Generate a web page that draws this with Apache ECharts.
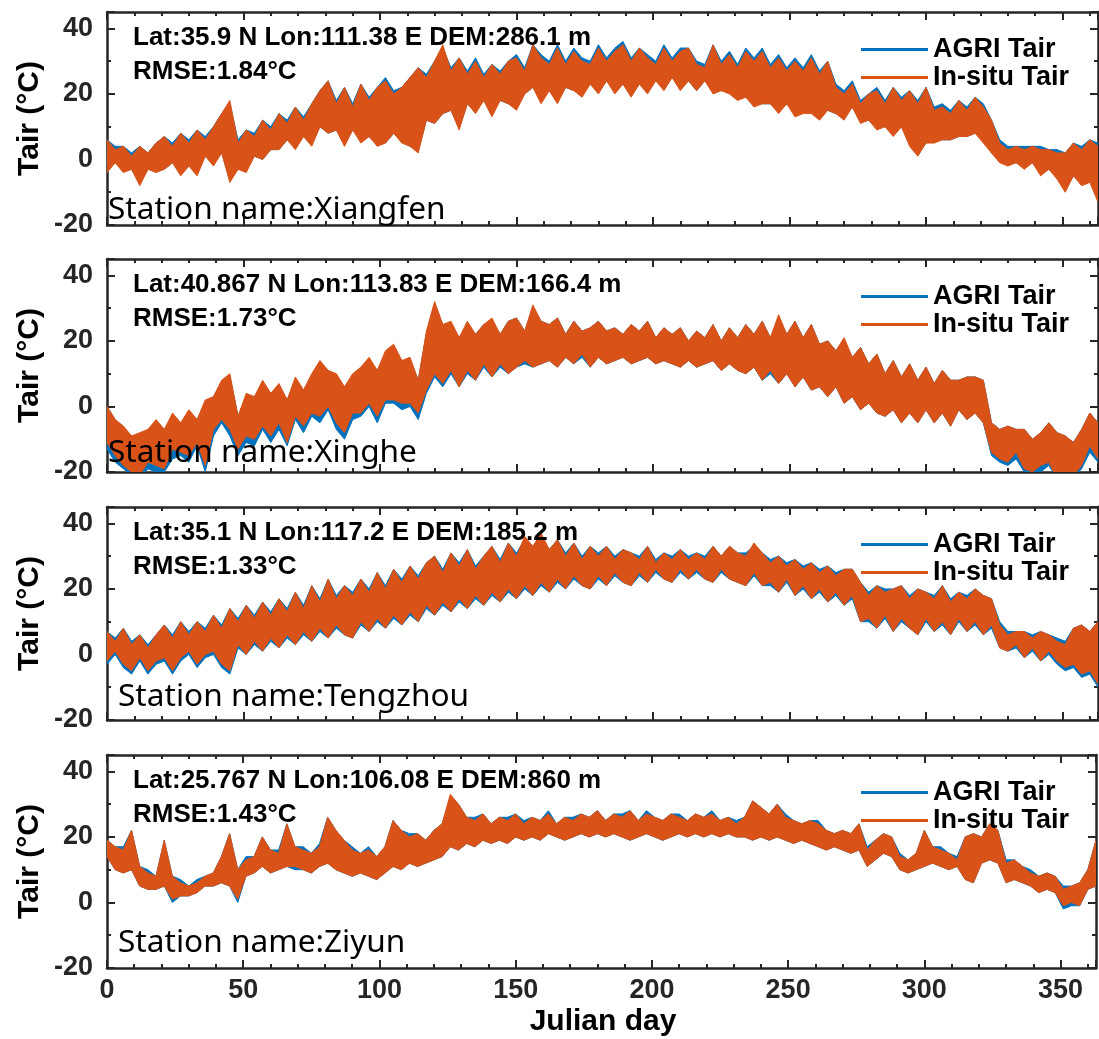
<!DOCTYPE html>
<html><head><meta charset="utf-8">
<script src="https://cdn.jsdelivr.net/npm/echarts@6/dist/echarts.min.js"></script>
<style>html,body{margin:0;padding:0;background:#fff;}#c{width:1099px;height:1039px;}</style>
</head><body><div id="c"></div>
<script>
// ---------------- DATA (sampled every 3 Julian days: 0,3,...,363) ----------------
const DAY_STEP = 3;
const X_TICK_LABELS = [0, 50, 100, 150, 200, 250, 300, 350];
const Y_TICK_LABELS = [-20, 0, 20, 40];
const STATIONS = ['Xiangfen', 'Xinghe', 'Tengzhou', 'Ziyun'];
const INFO = ['Lat:35.9 N Lon:111.38 E DEM:286.1 m', 'Lat:40.867 N Lon:113.83 E DEM:166.4 m',
              'Lat:35.1 N Lon:117.2 E DEM:185.2 m', 'Lat:25.767 N Lon:106.08 E DEM:860 m'];
const RMSE = ['RMSE:1.84°C', 'RMSE:1.73°C', 'RMSE:1.33°C', 'RMSE:1.43°C'];
const SERIES_NAMES = ['AGRI Tair', 'In-situ Tair'];

// Panel 1 Xiangfen (daily-max / daily-min envelopes)
const P1_INSITU_HI = [6,3,4,1,4,2,5,7,4,8, 5,9,6,10,14,18,5,9,7,12, 9,14,11,16,12,17,21,24,17,22,
  16,23,18,22,24,20,22,25,28,25, 30,35,27,31,26,30,25,29,26,30, 31,27,35,31,29,34,29,33,30,29,
  34,30,33,35,30,34,31,29,34,30, 33,34,29,28,35,29,32,28,33,30, 33,28,31,27,30,27,31,26,30,22,
  20,23,17,20,21,17,22,18,21,17, 22,15,16,14,18,15,19,16,12,5, 3,4,3,4,3,3,2,2,5,3, 6,4];
const P1_INSITU_LO = [-4,-1,-4,-3,-8,-3,-4,-3,-1,-5, -2,-5,1,-2,2,-7,-3,-4,1,0, 3,3,6,3,7,4,10,8,9,4,
  9,5,7,4,5,8,5,4,2,12, 11,14,15,9,17,14,18,13,18,17, 15,20,22,17,21,17,22,21,19,23,
  20,24,20,23,19,23,20,24,21,25, 21,24,21,24,20,21,20,18,19,16, 17,17,14,17,13,14,14,12,15,14,
  12,16,11,12,9,10,7,10,4,1, 5,5,6,6,7,7,8,5,2,-1, -2,-1,-3,-1,-5,-3,-6,-10,-5,-8, -7,-13];
const P1_AGRI_HI = [6,4,4,2,4,2,5,7,5,8, 6,9,7,10,14,17,6,9,8,12, 10,14,12,16,13,17,21,24,18,22,
  17,23,19,22,25,21,22,25,28,26, 30,34,28,31,27,31,26,29,27,30, 32,28,35,32,30,35,30,34,31,30,
  35,31,34,36,31,34,32,30,35,31, 34,34,30,29,35,30,33,29,34,31, 34,29,32,28,31,28,32,27,30,23,
  21,24,18,20,22,18,22,19,21,18, 22,16,17,15,18,16,19,17,12,6, 4,4,4,4,4,3,3,2,5,4, 6,5];
const P1_AGRI_LO = [-3,-1,-3,-3,-7,-3,-3,-3,-1,-4, -2,-4,1,-1,2,-6,-3,-3,1,0, 3,3,6,4,7,5,10,8,9,5,
  9,6,7,5,5,8,6,4,3,12, 11,14,15,10,17,15,18,14,18,17, 16,20,22,18,21,18,22,21,20,23,
  21,24,21,23,20,23,21,24,22,25, 22,24,21,24,21,21,21,19,19,17, 17,17,15,17,14,15,15,13,15,14,
  13,16,12,12,10,10,8,10,5,2, 5,6,6,6,7,7,8,6,2,0, -1,-1,-2,-1,-4,-3,-5,-9,-5,-7, -6,-12];

// Panel 2 Xinghe
const P2_INSITU_HI = [0,-4,-6,-9,-8,-7,-4,-7,-2,-5, -1,-4,2,3,8,10,-3,4,3,8, 4,7,2,9,5,10,14,11,10,6,
  10,12,15,11,17,19,14,15,8,23, 32,25,26,21,26,22,25,27,22,26, 27,23,31,26,25,27,22,26,23,24,
  26,23,24,22,25,23,26,21,24,22, 24,20,23,21,25,20,24,21,25,22, 26,21,28,22,26,21,25,19,20,17,
  21,15,18,13,16,10,14,9,13,8, 12,7,11,8,8,9,9,8,-5,-7, -6,-7,-7,-10,-8,-5,-8,-9,-11,-7, -2,-5];
const P2_INSITU_LO = [-11,-15,-18,-20,-21,-17,-18,-19,-13,-14, -15,-11,-18,-7,-4,-7,-13,-9,-10,-6,
  -9,-5,-11,-3,-6,-2,-3,0,-5,-8, -2,-2,1,-3,2,2,1,1,-2,5, 10,7,11,6,11,8,13,9,13,10,
  12,14,12,13,14,12,15,13,16,12, 15,13,14,15,13,14,15,13,14,13, 12,14,12,13,14,11,13,11,10,12,
  8,11,7,10,6,9,5,6,3,6, 1,3,-1,1,-2,-3,-1,-5,-2,-5, -1,-5,-2,-6,-1,-4,-2,-5,-14,-16,
  -17,-14,-19,-20,-18,-17,-22,-22,-21,-18, -12,-16];
const P2_AGRI_HI = [0,-4,-7,-9,-9,-7,-5,-7,-3,-5, -2,-4,1,3,7,9,-3,3,3,7, 4,6,2,8,5,9,13,11,9,6,
  9,12,14,11,16,18,14,14,8,22, 31,25,25,21,25,22,25,26,22,26, 27,23,30,26,25,27,22,26,23,24,
  26,23,24,22,25,23,26,21,24,22, 24,20,23,21,25,20,24,21,25,22, 26,21,27,22,26,21,25,19,20,17,
  20,15,18,13,16,10,14,9,13,8, 12,7,11,8,8,9,9,8,-5,-7, -6,-7,-7,-10,-8,-5,-8,-9,-11,-7, -2,-5];
const P2_AGRI_LO = [-13,-17,-19,-21,-22,-19,-20,-20,-16,-15, -17,-12,-20,-9,-5,-9,-15,-11,-12,-7,
  -11,-7,-12,-4,-8,-3,-5,-1,-7,-10, -4,-3,0,-5,1,1,-1,0,-4,4, 9,6,10,6,10,8,12,9,12,10,
  12,13,12,13,14,12,15,13,15,12, 15,13,14,15,13,14,15,13,14,13, 12,14,12,13,14,11,13,11,10,12,
  8,10,7,10,6,9,5,6,3,6, 1,3,-1,1,-2,-3,-1,-5,-2,-5, -1,-5,-2,-6,-1,-4,-2,-5,-15,-17,
  -18,-16,-20,-21,-20,-18,-22,-23,-22,-19, -14,-17];

// Panel 3 Tengzhou
const P3_INSITU_HI = [7,4,8,3,6,2,6,9,5,10, 6,10,7,12,8,14,10,15,11,16, 12,17,13,19,14,21,16,23,17,21,
  18,23,19,25,20,26,22,27,23,28, 30,25,31,27,32,26,30,33,28,34, 30,36,33,37,32,35,30,34,29,33,
  30,33,29,32,31,29,33,28,31,29, 32,29,31,29,33,30,33,31,30,34, 31,28,30,27,29,26,28,25,27,24,
  26,26,22,18,21,19,20,21,17,20, 19,17,21,16,19,17,20,18,17,9, 6,7,7,5,7,6,4,3,8,9, 7,10];
const P3_INSITU_LO = [-2,1,-3,-5,-1,-5,-2,-1,-5,-1, 1,-3,0,1,-3,-5,3,0,4,1, 5,2,6,3,7,4,8,5,9,6,
  5,10,7,11,8,12,9,13,10,15, 12,16,13,17,14,18,15,19,16,20, 17,21,18,22,19,23,20,24,21,20,
  24,21,25,22,21,25,22,26,23,22, 26,23,26,23,22,26,23,22,21,25, 21,22,19,23,18,21,17,20,16,19,
  15,18,10,11,8,12,7,11,8,6, 11,7,10,6,11,7,10,6,9,2, 1,3,-1,2,-2,1,-2,-4,-3,-6, -5,-9];
const P3_AGRI_HI = [7,5,8,4,6,3,6,9,6,10, 7,10,8,12,9,14,11,15,12,16, 13,17,14,19,15,21,17,23,18,21,
  19,23,20,25,21,26,23,27,24,28, 30,26,31,28,32,27,30,33,29,34, 31,35,33,36,32,35,31,34,30,33,
  31,33,30,32,31,30,33,29,31,30, 32,30,31,30,33,30,33,31,31,33, 31,29,30,28,29,27,28,26,27,25,
  26,26,22,19,21,20,20,21,18,20, 19,18,21,17,19,18,20,18,17,10, 7,7,7,6,7,6,5,4,8,9, 7,10];
const P3_AGRI_LO = [-3,0,-4,-6,-2,-6,-3,-2,-6,-2, 0,-4,-1,0,-4,-6,2,0,3,1, 4,2,5,3,6,4,7,5,8,6,
  5,9,7,10,8,11,9,12,10,14, 12,15,13,16,14,17,15,18,16,19, 17,20,18,21,19,22,20,23,21,20,
  23,21,24,22,21,24,22,25,23,22, 25,23,25,23,22,25,23,22,21,24, 21,21,19,22,18,20,17,19,16,18,
  15,17,10,10,8,11,7,10,8,6, 10,7,9,6,10,7,9,6,8,2, 1,2,-1,1,-2,0,-3,-5,-4,-7, -6,-10];

// Panel 4 Ziyun
const P4_INSITU_HI = [19,17,16,22,11,9,8,19,8,6, 5,6,8,9,14,21,10,13,14,20, 16,15,24,17,16,15,17,26,22,19,
  16,15,16,14,17,25,22,20,21,19, 22,24,33,30,26,25,27,24,26,25, 27,24,26,25,27,24,26,25,27,26,
  28,25,27,26,28,25,27,26,25,27, 26,25,27,26,27,25,26,24,26,31, 29,27,30,26,25,24,25,24,22,21,
  22,21,24,16,19,21,20,14,13,15, 22,17,16,15,13,20,21,20,24,22, 12,13,11,9,8,9,8,4,5,6, 10,19];
const P4_INSITU_LO = [14,10,9,10,5,4,4,5,1,2, 2,3,5,5,6,5,1,8,9,11, 9,10,11,11,10,9,11,12,10,9,
  8,9,8,7,9,11,10,12,11,12, 13,14,17,16,18,17,19,18,19,18, 20,19,20,19,21,20,19,20,21,20,
  21,20,21,20,19,20,21,20,19,20, 21,20,21,20,21,20,21,20,20,19, 20,19,20,19,18,19,18,17,16,17,
  16,15,16,11,13,15,14,10,9,10, 11,12,11,10,11,7,6,12,13,12, 6,7,6,5,3,4,3,-1,0,-1, 4,5];
const P4_AGRI_HI = [19,17,17,22,11,10,8,19,8,7, 5,7,8,9,14,21,10,14,14,20, 16,16,24,17,17,15,18,26,22,19,
  17,15,17,14,17,25,22,21,21,19, 22,24,32,30,26,26,27,24,26,26, 27,25,26,25,28,24,26,26,27,26,
  28,25,27,27,28,25,28,26,25,27, 27,25,27,26,28,25,26,25,26,31, 29,27,30,27,25,24,25,25,22,21,
  22,21,24,17,19,21,20,15,13,15, 22,17,17,15,14,20,21,20,24,22, 13,13,11,10,8,9,8,5,5,6, 10,19];
const P4_AGRI_LO = [14,10,9,10,5,4,4,5,0,2, 2,3,5,5,6,5,0,8,9,11, 9,10,11,10,10,9,11,12,10,9,
  8,9,8,7,9,11,10,12,11,12, 13,14,17,16,18,17,19,18,19,18, 20,19,20,19,21,20,19,20,21,20,
  21,20,21,20,19,20,21,20,19,20, 21,20,21,20,21,20,21,20,20,19, 20,19,20,19,18,19,18,17,16,17,
  16,15,16,11,13,15,14,10,9,10, 11,12,11,10,11,7,6,12,13,12, 6,7,6,5,3,4,3,-2,-1,-1, 4,5];

const PANEL_DATA = [
  {agri: [P1_AGRI_LO, P1_AGRI_HI], insitu: [P1_INSITU_LO, P1_INSITU_HI]},
  {agri: [P2_AGRI_LO, P2_AGRI_HI], insitu: [P2_INSITU_LO, P2_INSITU_HI]},
  {agri: [P3_AGRI_LO, P3_AGRI_HI], insitu: [P3_INSITU_LO, P3_INSITU_HI]},
  {agri: [P4_AGRI_LO, P4_AGRI_HI], insitu: [P4_INSITU_LO, P4_INSITU_HI]}
];
const DAYS = P1_INSITU_HI.map((_, i) => i * DAY_STEP);

// ---------------- LAYOUT / STYLE ----------------
const BLUE = '#0072BD', ORANGE = '#D95319', AX = '#262626';
const FONT = '"Liberation Sans", Arial, sans-serif';
const TOPS = [12, 259, 507, 755];
const GL = 107, GW = 991, GH = 213;
const X_MAX = 363, Y_MIN = -20, Y_MAX = 45;
const STATION_Y = [210, 453, 697, 943];
const STATION_X = [108, 108, 118, 118];

const chart = echarts.init(document.getElementById('c'), null, {renderer: 'canvas'});
const grids = [], xAxes = [], yAxes = [], series = [], legends = [], graphics = [];

function xAx(k, pos, interval, len, line, label) {
  return {gridIndex: k, type: 'value', position: pos, min: 0, max: X_MAX, interval: interval,
    axisLine: {show: line, onZero: false, lineStyle: {color: AX, width: 2.5}},
    axisTick: {show: true, inside: true, length: len, lineStyle: {color: AX, width: 2}},
    axisLabel: {show: label, margin: 9, color: AX, fontSize: 27, fontWeight: 'bold', fontFamily: FONT,
      formatter: v => X_TICK_LABELS.indexOf(v) >= 0 ? String(v) : ''},
    splitLine: {show: false}};
}
function yAx(k, pos, interval, len, line, label) {
  return {gridIndex: k, type: 'value', position: pos, min: Y_MIN, max: Y_MAX, interval: interval,
    axisLine: {show: line, onZero: false, lineStyle: {color: AX, width: 2.5}},
    axisTick: {show: true, inside: true, length: len, lineStyle: {color: AX, width: 2}},
    axisLabel: {show: label, margin: 14, color: AX, fontSize: 27, fontWeight: 'bold', fontFamily: FONT,
      formatter: v => Y_TICK_LABELS.indexOf(v) >= 0 ? String(v) : ''},
    splitLine: {show: false}};
}
function band(name, color, lo, hi, xi, yi, z) {
  return {type: 'custom', name: name, xAxisIndex: xi, yAxisIndex: yi, clip: true, silent: true, z: z,
    itemStyle: {color: color}, encode: {x: 0, y: [1, 2]},
    data: DAYS.map((d, i) => [d, lo[i], hi[i]]),
    renderItem: function (params, api) {
      if (params.dataIndex !== 0) return null;
      const pts = [];
      for (let i = 0; i < DAYS.length; i++) pts.push(api.coord([DAYS[i], hi[i]]));
      for (let i = DAYS.length - 1; i >= 0; i--) pts.push(api.coord([DAYS[i], lo[i]]));
      return {type: 'polygon', shape: {points: pts}, style: {fill: color, stroke: color, lineWidth: 1}};
    }};
}
function txt(x, y, text, font, extra) {
  return Object.assign({type: 'text', x: x, y: y, z: 100, silent: true,
    style: {text: text, font: font, fill: '#000', align: 'left', verticalAlign: 'middle',
      textAlign: 'left', textVerticalAlign: 'middle'}}, extra || {});
}

PANEL_DATA.forEach((p, k) => {
  const top = TOPS[k];
  const last = k === PANEL_DATA.length - 1;
  grids.push({left: GL, top: top, width: GW, height: GH});
  const xi = xAxes.length, yi = yAxes.length;
  xAxes.push(xAx(k, 'bottom', 50, 8, true, last));
  xAxes.push(xAx(k, 'bottom', 10, 4, false, false));
  xAxes.push(xAx(k, 'top', 50, 8, true, false));
  xAxes.push(xAx(k, 'top', 10, 4, false, false));
  yAxes.push(yAx(k, 'left', 20, 8, true, true));
  yAxes.push(yAx(k, 'left', 10, 4, false, false));
  yAxes.push(yAx(k, 'right', 20, 8, true, false));
  yAxes.push(yAx(k, 'right', 10, 4, false, false));
  series.push(band(SERIES_NAMES[0], BLUE, p.agri[0], p.agri[1], xi, yi, 2));
  series.push(band(SERIES_NAMES[1], ORANGE, p.insitu[0], p.insitu[1], xi, yi, 3));
  legends.push({orient: 'vertical', left: 861, top: top + 24, padding: 0, itemGap: 1,
    itemWidth: 67, itemHeight: 3, icon: 'rect', selectedMode: false, z: 20,
    data: [{name: SERIES_NAMES[0], itemStyle: {color: BLUE}}, {name: SERIES_NAMES[1], itemStyle: {color: ORANGE}}],
    textStyle: {fontSize: 27, fontWeight: 'bold', color: '#000', fontFamily: FONT, lineHeight: 27}});
  graphics.push(txt(133, top + 26, INFO[k], 'bold 26px ' + FONT));
  graphics.push(txt(133, top + 60, RMSE[k], 'bold 26px ' + FONT));
  graphics.push(txt(STATION_X[k], STATION_Y[k], 'Station name:' + STATIONS[k], '31.6px "Noto Sans", sans-serif'));
  const t = txt(30, top + GH / 2, 'Tair (°C)', 'bold 30px ' + FONT, {rotation: Math.PI / 2});
  t.style.align = 'center'; t.style.textAlign = 'center';
  graphics.push(t);
});
const jd = txt(603, 1022, 'Julian day', 'bold 30px ' + FONT);
jd.style.align = 'center'; jd.style.textAlign = 'center';
graphics.push(jd);

chart.setOption({
  animation: false, backgroundColor: '#fff',
  grid: grids, xAxis: xAxes, yAxis: yAxes, series: series, legend: legends,
  graphic: {elements: graphics}
});
</script>
</body></html>
